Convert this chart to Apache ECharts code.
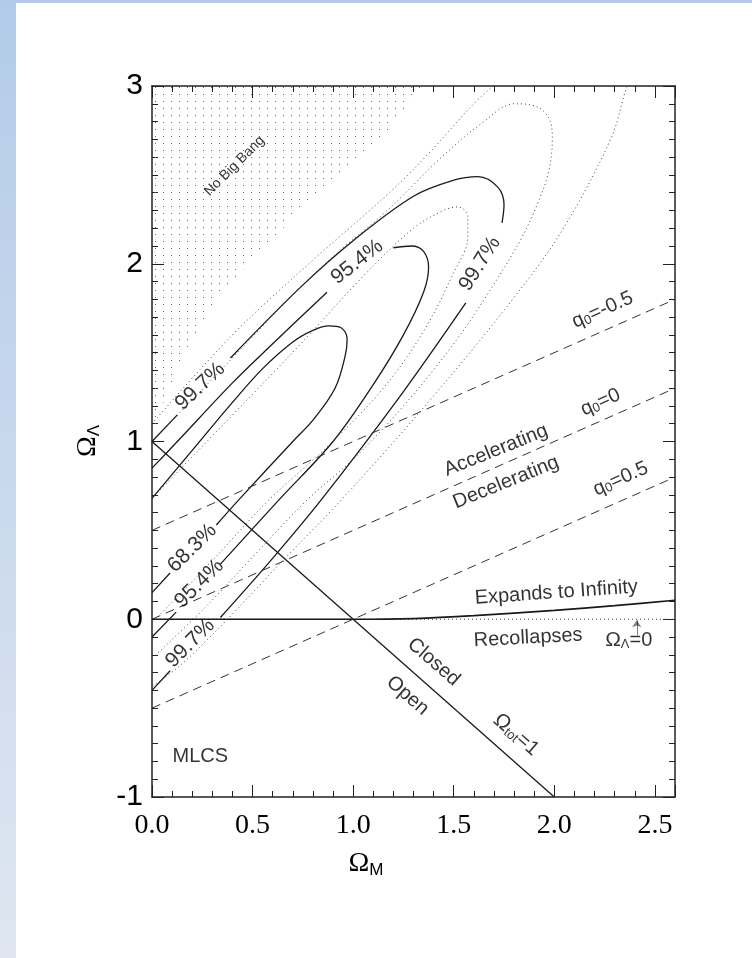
<!DOCTYPE html>
<html>
<head>
<meta charset="utf-8">
<script src="https://cdn.jsdelivr.net/npm/echarts@6/dist/echarts.min.js"></script>
<style>
  html, body { margin: 0; padding: 0; background: #fff; }
  #band { position: absolute; left: 0; top: 0; width: 16px; height: 958px; background: linear-gradient(#b3cbe9, #dfe6f1); }
  #topband { position: absolute; left: 0; top: 0; width: 752px; height: 3px; background: #b3cbe9; }
  #chart { position: absolute; left: 0; top: 0; width: 752px; height: 958px; }
</style>
</head>
<body>
<div id="band"></div>
<div id="topband"></div>
<div id="chart"></div>
<script>
// tick labels
const xTickLabels = ['0.0', '0.5', '1.0', '1.5', '2.0', '2.5'];
const yTickLabels = ['-1', '0', '1', '2', '3'];

// solid contours (MLCS), split where the labels sit
const solid68 = [
  [[0, 0.68], [0.2, 0.95], [0.4, 1.22], [0.55, 1.41], [0.7, 1.56], [0.8, 1.625], [0.88, 1.65], [0.94, 1.64], [0.97, 1.58], [0.96, 1.48], [0.91, 1.3], [0.8, 1.12], [0.7, 1.0], [0.43, 0.67], [0.32, 0.53]],
  [[0.09, 0.26], [0, 0.15]]
];
const solid95 = [
  [[0, 0.85], [0.126, 1.0], [0.4, 1.33], [0.6, 1.55], [0.87, 1.84]],
  [[1.2, 2.09], [1.29, 2.1], [1.35, 2.07], [1.375, 1.98], [1.35, 1.84], [1.25, 1.6], [1.1, 1.32], [0.9, 1.0], [0.63, 0.67], [0.34, 0.31]],
  [[0.12, 0.04], [0, -0.1]]
];
const solid99 = [
  [[0, 1.0], [0.126, 1.15]],
  [[0.39, 1.47], [0.74, 1.87], [1.0, 2.13], [1.3, 2.38], [1.5, 2.47], [1.62, 2.49], [1.72, 2.43], [1.75, 2.33], [1.74, 2.23]],
  [[1.56, 1.78], [1.23, 1.25], [0.84, 0.67], [0.59, 0.33], [0.34, 0.01]],
  [[0.09, -0.29], [0, -0.4]]
];

// dotted contours
const dot1 = [[0, 0.68], [0.29, 1.02], [0.74, 1.55], [1.05, 1.93], [1.3, 2.2], [1.45, 2.3], [1.52, 2.32], [1.57, 2.27], [1.57, 2.15], [1.5, 1.95], [1.35, 1.62], [1.15, 1.3], [0.88, 0.98], [0.58, 0.67], [0.3, 0.33], [0, -0.02]];
const dot2 = [[0, 1.0], [0.29, 1.34], [0.74, 1.87], [0.94, 2.08], [1.17, 2.3], [1.44, 2.6], [1.65, 2.8], [1.8, 2.9], [1.92, 2.88], [1.98, 2.8], [1.99, 2.7], [1.97, 2.51], [1.91, 2.32], [1.83, 2.13], [1.68, 1.85], [1.5, 1.55], [1.25, 1.2], [1.0, 0.9], [0.77, 0.67], [0.5, 0.35], [0.25, 0.05], [0, -0.22]];
const dot3 = [[0, 1.1], [0.4, 1.6], [0.8, 2.02], [1.19, 2.41], [1.4, 2.65], [1.6, 2.9], [1.75, 3.05], [2.0, 3.25], [2.3, 3.2], [2.37, 3.05], [2.35, 2.96], [2.28, 2.7], [2.04, 2.19], [1.8, 1.81], [1.38, 1.23], [0.94, 0.67], [0.65, 0.33], [0.375, 0], [0.15, -0.25], [0, -0.38]];

// reference lines
const omegaTot = [[0, 1], [2, -1]];
const qMinusHalf = [[0, 0.5], [2.6, 1.8]];
const qZero = [[0, 0], [2.6, 1.3]];
const qHalf = [[0, -0.5], [2.6, 0.8]];
const lambdaZero = [[0, 0], [2.6, 0]];
const expandLine = [[0, 0], [1.0, 0], [1.3, 0.004], [1.6, 0.02], [2.0, 0.05], [2.3, 0.077], [2.6, 0.107]];
const noBigBang = [[0, 3], [0, 1.0], [0.05, 1.2], [0.16, 1.5], [0.32, 1.8], [0.52, 2.05], [0.8, 2.37], [1.1, 2.65], [1.35, 3.0]];
const arrowLine = [[2.41, -0.09], [2.41, -0.005]];

const SANS = 'Liberation Sans';
const SERIF = 'Liberation Serif';
const INK = '#000';

const chart = echarts.init(document.getElementById('chart'));

const styles = {
  solid: { color: '#1a1a1a', width: 1.3 },
  dotted: { color: '#444', width: 1, type: [1, 3] },
  dashed: { color: '#333', width: 1, type: [9, 6] }
};

function lineSeries(points, kind, extra) {
  return Object.assign({
    type: 'line',
    data: points,
    symbol: 'none',
    smooth: 0.35,
    lineStyle: styles[kind],
    silent: true,
    animation: false,
    clip: true,
    z: 3
  }, extra || {});
}

// dot pattern for the "No Big Bang" area
const pat = document.createElement('canvas');
pat.width = 8; pat.height = 7;
const pctx = pat.getContext('2d');
pctx.fillStyle = '#666';
pctx.fillRect(3, 3, 1, 1);

const series = [];
series.push({
  type: 'custom',
  silent: true,
  animation: false,
  z: 1,
  data: [0],
  renderItem: function (params, api) {
    const pts = noBigBang.map(p => api.coord(p));
    return { type: 'polygon', shape: { points: pts }, style: { fill: { image: pat, repeat: 'repeat' } } };
  }
});

[solid68, solid95, solid99].forEach(c => c.forEach(s => series.push(lineSeries(s, 'solid'))));
[dot1, dot2, dot3].forEach(c => series.push(lineSeries(c, 'dotted')));
[qMinusHalf, qZero, qHalf].forEach(c => series.push(lineSeries(c, 'dashed', { smooth: false })));
series.push(lineSeries(omegaTot, 'solid', { smooth: false }));
series.push(lineSeries(lambdaZero, 'dotted', { smooth: false }));
series.push(lineSeries(expandLine, 'solid', { smooth: 0.3, lineStyle: { color: '#1a1a1a', width: 1.7 } }));
series.push({
  type: 'lines',
  coordinateSystem: 'cartesian2d',
  silent: true,
  animation: false,
  symbol: ['none', 'arrow'],
  symbolSize: 7,
  lineStyle: { color: INK, width: 1 },
  data: [{ coords: arrowLine }]
});

const rich = {
  a: { fontSize: 20, fontFamily: SANS, color: INK },
  o: { fontSize: 21, fontFamily: SANS, color: INK },
  s: { fontSize: 13, fontFamily: SANS, color: INK, verticalAlign: 'bottom', padding: [7, 0, 0, 0] }
};
const notes = [
  { t: 'No Big Bang', p: [0.41, 2.55], r: 45, size: 14 },
  { t: '99.7%', p: [0.24, 1.31], r: 43 },
  { t: '95.4%', p: [1.02, 2.01], r: 38 },
  { t: '99.7%', p: [1.63, 2.0], r: 58 },
  { t: '68.3%', p: [0.2, 0.4], r: 45 },
  { t: '95.4%', p: [0.235, 0.2], r: 45 },
  { t: '99.7%', p: [0.19, -0.135], r: 45 },
  { t: 'Accelerating', p: [1.71, 0.95], r: 22, size: 20 },
  { t: 'Decelerating', p: [1.76, 0.77], r: 22, size: 20 },
  { t: '{a|q}{s|0}{a|=-0.5}', p: [2.24, 1.74], r: 24 },
  { t: '{a|q}{s|0}{a|=0}', p: [2.23, 1.22], r: 24 },
  { t: '{a|q}{s|0}{a|=0.5}', p: [2.33, 0.79], r: 24 },
  { t: 'Expands to Infinity', p: [2.01, 0.15], r: 4, size: 20 },
  { t: 'Recollapses', p: [1.87, -0.105], r: 3, size: 20 },
  { t: '{o|Ω}{s|Λ}{a|=0}', p: [2.37, -0.12], r: 0 },
  { t: 'Closed', p: [1.4, -0.24], r: -41, size: 20 },
  { t: 'Open', p: [1.27, -0.43], r: -41, size: 20 },
  { t: '{o|Ω}{s|tot}{a|=1}', p: [1.81, -0.65], r: -41 },
  { t: 'MLCS', p: [0.24, -0.77], r: 0, size: 20 }
];
series.push({
  type: 'scatter',
  silent: true,
  animation: false,
  symbolSize: 1,
  itemStyle: { color: 'rgba(0,0,0,0)' },
  z: 5,
  data: notes.map(n => ({
    value: n.p,
    label: {
      show: true,
      position: 'inside',
      formatter: n.t,
      rotate: n.r,
      fontSize: n.size || 21,
      fontFamily: SANS,
      color: INK,
      rich: rich
    }
  }))
});

const tickCommon = {
  axisLine: { show: true, onZero: false, lineStyle: { color: '#222', width: 1.5 } },
  axisTick: { show: true, inside: true, length: 12, lineStyle: { color: '#222', width: 1 } },
  splitLine: { show: false }
};

chart.setOption({
  backgroundColor: 'transparent',
  animation: false,
  grid: { left: 152, right: 77, top: 86, bottom: 161 },
  xAxis: [
    Object.assign({
      type: 'value', min: 0, max: 2.6, interval: 0.5, position: 'bottom',
      minorTick: { show: true, splitNumber: 5, length: 6, lineStyle: { color: '#222' } },
      axisLabel: {
        fontFamily: SERIF, fontSize: 28, color: INK, margin: 15, showMaxLabel: false,
        formatter: v => xTickLabels[Math.round(v / 0.5)] || ''
      }
    }, tickCommon),
    Object.assign({
      type: 'value', min: 0, max: 2.6, interval: 0.5, position: 'top',
      minorTick: { show: true, splitNumber: 5, length: 6, lineStyle: { color: '#222' } },
      axisLabel: { show: false }
    }, tickCommon)
  ],
  yAxis: [
    Object.assign({
      type: 'value', min: -1, max: 3, interval: 1, position: 'left',
      minorTick: { show: true, splitNumber: 10, length: 6, lineStyle: { color: '#222' } },
      axisLabel: {
        fontFamily: 'Liberation Sans Narrow, Liberation Sans', fontSize: 30, color: INK, margin: 9,
        formatter: v => yTickLabels[Math.round(v) + 1] || ''
      }
    }, tickCommon),
    Object.assign({
      type: 'value', min: -1, max: 3, interval: 1, position: 'right',
      minorTick: { show: true, splitNumber: 10, length: 6, lineStyle: { color: '#222' } },
      axisLabel: { show: false }
    }, tickCommon)
  ],
  graphic: [
    {
      type: 'text', x: 366, y: 864,
      style: {
        text: '{o|Ω}{s|M}', align: 'center', verticalAlign: 'middle', fill: INK,
        rich: {
          o: { fontSize: 28, fontFamily: SERIF, fill: INK },
          s: { fontSize: 17, fontFamily: 'Liberation Sans Narrow, Liberation Sans', fill: INK, verticalAlign: 'bottom', padding: [12, 0, 0, 0] }
        }
      }
    },
    {
      type: 'text', x: 88, y: 441, rotation: Math.PI / 2,
      style: {
        text: '{o|Ω}{s|Λ}', align: 'center', verticalAlign: 'middle', fill: INK,
        rich: {
          o: { fontSize: 28, fontFamily: SERIF, fill: INK },
          s: { fontSize: 17, fontFamily: SANS, fill: INK, verticalAlign: 'bottom', padding: [12, 0, 0, 0] }
        }
      }
    }
  ],
  series: series
});
</script>
</body>
</html>
